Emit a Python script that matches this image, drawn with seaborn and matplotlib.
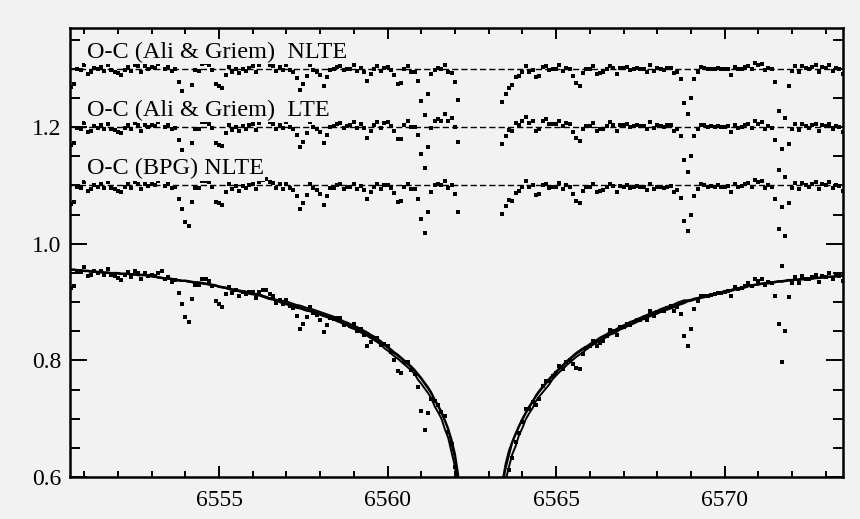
import numpy as np
import pandas as pd
import matplotlib
matplotlib.use("Agg")
import matplotlib.pyplot as plt
import seaborn as sns
from matplotlib.ticker import MultipleLocator

# Sampling of the two line wings (Angstrom); the saturated core is not used.
BLUE_START = 6550.6
RED_START = 6563.4
STEP = 0.1

# Observed normalised flux, in units of 0.001
obs_blue = [
    924, 928, 953, 951, 960, 944, 946, 954, 950, 954,
    946, 956, 946, 944, 941, 937, 946, 951, 943, 954,
    950, 940, 950, 945, 947, 944, 950, 953, 940, 943,
    935, 937, 915, 897, 875, 866, 906, 930, 929, 940,
    940, 936, 927, 901, 896, 892, 914, 925, 916, 920,
    911, 918, 913, 917, 918, 907, 918, 921, 920, 913,
    910, 899, 904, 896, 904, 894, 889, 876, 854, 862,
    874, 892, 882, 877, 869, 848, 861, 872, 871, 872,
    872, 861, 862, 859, 863, 850, 853, 843, 824, 832,
    838, 839, 826, 828, 825, 814, 801, 782, 778, 797,
    798, 783, 777, 754, 713, 681, 709, 734, 731, 724,
    711, 704, 677, 657, 618, 549,
]
obs_red = [
    533, 579, 612, 633, 660, 676, 695, 716, 716, 728,
    724, 734, 756, 765, 764, 773, 779, 791, 786, 798,
    801, 793, 787, 786, 811, 821, 825, 834, 824, 830,
    834, 842, 852, 850, 843, 857, 858, 863, 861, 865,
    870, 870, 873, 870, 884, 876, 883, 885, 885, 890,
    893, 885, 891, 880, 842, 824, 853, 888, 901, 911,
    911, 910, 912, 913, 916, 915, 917, 919, 910, 925,
    922, 924, 928, 932, 927, 939, 936, 939, 929, 934,
    932, 911, 862, 798, 851, 908, 933, 943, 933, 944,
    940, 939, 943, 947, 935, 945, 943, 949, 939, 946,
    944, 936,
]

# Synthetic profiles, same sampling, units of 0.001
nlte_ag_blue = [
    955, 955, 954, 954, 953, 953, 952, 952, 951, 951,
    950, 950, 949, 949, 949, 948, 948, 948, 947, 947,
    946, 946, 946, 945, 944, 943, 942, 941, 940, 940,
    939, 938, 937, 936, 936, 935, 934, 933, 933, 932,
    931, 930, 929, 928, 926, 925, 924, 922, 921, 920,
    919, 918, 917, 915, 914, 913, 912, 910, 908, 906,
    905, 903, 901, 899, 898, 896, 894, 892, 891, 889,
    887, 886, 884, 882, 880, 878, 876, 874, 872, 869,
    867, 864, 862, 859, 857, 854, 851, 848, 845, 841,
    838, 834, 830, 826, 822, 817, 812, 808, 803, 798,
    793, 788, 782, 775, 768, 760, 752, 743, 733, 723,
    712, 698, 683, 664, 640, 603,
]
nlte_ag_red = [
    590, 622, 645, 661, 675, 688, 700, 711, 721, 730,
    738, 746, 753, 760, 767, 773, 779, 785, 790, 796,
    801, 806, 811, 815, 819, 822, 826, 830, 833, 837,
    840, 843, 847, 849, 852, 855, 857, 860, 863, 865,
    868, 870, 873, 875, 878, 880, 882, 885, 887, 889,
    891, 893, 896, 898, 900, 902, 903, 905, 906, 908,
    909, 911, 912, 914, 915, 916, 918, 919, 920, 922,
    923, 924, 925, 927, 928, 929, 930, 931, 932, 932,
    933, 934, 935, 935, 936, 937, 937, 938, 938, 939,
    939, 940, 940, 941, 941, 942, 942, 943, 943, 944,
    944, 945,
]
lte_ag_blue = [
    955, 955, 954, 954, 953, 953, 952, 952, 951, 951,
    950, 950, 949, 949, 949, 948, 948, 948, 947, 947,
    946, 946, 946, 945, 944, 943, 942, 941, 940, 940,
    939, 938, 937, 936, 936, 935, 934, 933, 933, 932,
    931, 930, 929, 928, 926, 925, 924, 922, 921, 920,
    918, 917, 916, 914, 913, 912, 911, 909, 907, 905,
    904, 902, 900, 897, 896, 894, 892, 890, 889, 887,
    885, 884, 882, 880, 878, 876, 874, 872, 870, 867,
    865, 862, 860, 856, 854, 851, 848, 845, 842, 838,
    835, 831, 827, 821, 817, 812, 807, 803, 798, 793,
    788, 783, 777, 767, 760, 752, 744, 735, 721, 711,
    700, 682, 667, 642, 618, 575,
]
lte_ag_red = [
    562, 594, 617, 639, 653, 672, 684, 699, 709, 718,
    730, 738, 745, 752, 759, 768, 774, 780, 785, 791,
    796, 801, 806, 810, 814, 819, 823, 827, 830, 834,
    837, 840, 844, 846, 849, 853, 855, 858, 861, 863,
    866, 868, 871, 873, 876, 878, 880, 883, 885, 887,
    889, 891, 894, 896, 898, 901, 902, 904, 905, 907,
    908, 910, 911, 913, 914, 915, 917, 918, 919, 921,
    923, 924, 925, 927, 928, 929, 930, 931, 932, 932,
    933, 934, 935, 935, 936, 937, 937, 938, 938, 939,
    939, 940, 940, 941, 941, 942, 942, 943, 943, 944,
    944, 945,
]
nlte_bpg_blue = [
    956, 956, 955, 955, 954, 954, 953, 953, 952, 952,
    951, 951, 950, 950, 950, 949, 949, 949, 948, 948,
    947, 947, 947, 946, 945, 944, 943, 942, 941, 941,
    940, 939, 938, 937, 937, 936, 935, 934, 934, 933,
    932, 931, 930, 929, 927, 926, 925, 923, 922, 921,
    920, 919, 918, 916, 915, 914, 913, 911, 909, 907,
    906, 904, 902, 902, 901, 899, 897, 895, 894, 892,
    890, 889, 887, 885, 883, 881, 879, 877, 875, 872,
    870, 867, 865, 862, 860, 857, 854, 851, 848, 844,
    841, 837, 833, 828, 824, 819, 814, 810, 805, 800,
    795, 790, 784, 777, 770, 762, 754, 745, 731, 721,
    710, 696, 681, 656, 632, 595,
]
nlte_bpg_red = [
    582, 614, 637, 659, 673, 686, 698, 709, 719, 728,
    740, 748, 755, 762, 769, 775, 781, 787, 792, 798,
    803, 808, 813, 817, 821, 824, 828, 832, 835, 839,
    842, 845, 849, 851, 854, 858, 860, 863, 866, 868,
    871, 873, 876, 878, 881, 883, 885, 888, 890, 892,
    894, 896, 899, 901, 903, 903, 904, 906, 907, 909,
    910, 912, 913, 915, 916, 917, 919, 920, 921, 923,
    924, 925, 926, 928, 929, 930, 931, 932, 933, 933,
    934, 935, 936, 936, 937, 938, 938, 939, 939, 940,
    940, 941, 941, 942, 942, 943, 943, 944, 944, 945,
    945, 946,
]

# Residual rows: label and vertical offset
oc_labels = ["O-C (Ali & Griem)  NLTE", "O-C (Ali & Griem)  LTE", "O-C (BPG) NLTE"]
oc_offsets = [1.3, 1.2, 1.1]

BG = "#f2f2f2"

sns.set_style("ticks")
plt.rcParams["font.family"] = ["Liberation Serif", "DejaVu Serif"]

fig = plt.figure(figsize=(8.6, 5.19), dpi=100, facecolor=BG)
ax = fig.add_axes([0.0814, 0.0809, 0.8988, 0.8642], facecolor=BG)


def wave(start, n):
    return np.round(start + STEP * np.arange(n), 3)


w_blue = wave(BLUE_START, len(obs_blue))
w_red = wave(RED_START, len(obs_red))
f_blue = np.array(obs_blue) / 1000.0
f_red = np.array(obs_red) / 1000.0

models = [
    (np.array(nlte_ag_blue) / 1000.0, np.array(nlte_ag_red) / 1000.0),
    (np.array(lte_ag_blue) / 1000.0, np.array(lte_ag_red) / 1000.0),
    (np.array(nlte_bpg_blue) / 1000.0, np.array(nlte_bpg_red) / 1000.0),
]

dot = dict(color="black", s=5, marker="s", linewidth=0, ax=ax, legend=False)

# synthetic profiles
for mb, mr in models:
    for w, m in ((w_blue, mb), (w_red, mr)):
        sns.lineplot(x=w, y=m, color="black", linewidth=1.4, estimator=None,
                     sort=False, ax=ax, legend=False)

# observed spectrum
obs = pd.DataFrame({"wave": np.concatenate([w_blue, w_red]),
                    "flux": np.concatenate([f_blue, f_red])})
sns.scatterplot(data=obs, x="wave", y="flux", **dot)

# observed minus computed, shifted to their reference levels
for (mb, mr), off, lab in zip(models, oc_offsets, oc_labels):
    ax.axhline(off, color="black", linewidth=1.0, linestyle=(0, (4.5, 2.2)), zorder=2)
    oc = pd.DataFrame({"wave": np.concatenate([w_blue, w_red]),
                       "oc": np.concatenate([f_blue - mb, f_red - mr]) + off})
    sns.scatterplot(data=oc, x="wave", y="oc", **dot)
    ax.text(6551.08, off + 0.019, lab, fontsize=17.5, color="black",
            ha="left", va="baseline", zorder=5,
            bbox=dict(facecolor=BG, edgecolor="none", pad=1.0))

ax.set_xlim(6550.58, 6573.51)
ax.set_ylim(0.6, 1.369)
ax.set_xlabel("")
ax.set_ylabel("")

ax.xaxis.set_minor_locator(MultipleLocator(1))
ax.yaxis.set_minor_locator(MultipleLocator(0.05))
ax.set_xticks([6555, 6560, 6565, 6570])
ax.set_yticks([0.6, 0.8, 1.0, 1.2])
ax.set_xticklabels(["6555", "6560", "6565", "6570"])
ax.set_yticklabels(["0.6", "0.8", "1.0", "1.2"])

ax.tick_params(axis="both", which="both", direction="in", top=True, right=True,
               width=1.4, color="black", labelsize=17, labelcolor="black")
ax.tick_params(axis="x", which="major", length=8, pad=9)
ax.tick_params(axis="x", which="minor", length=4.5)
ax.tick_params(axis="y", which="major", length=12, pad=6)
ax.tick_params(axis="y", which="minor", length=7)

for sp in ax.spines.values():
    sp.set_visible(True)
    sp.set_linewidth(1.8)
    sp.set_color("black")

fig.savefig("out.png", dpi=100, facecolor=BG)
